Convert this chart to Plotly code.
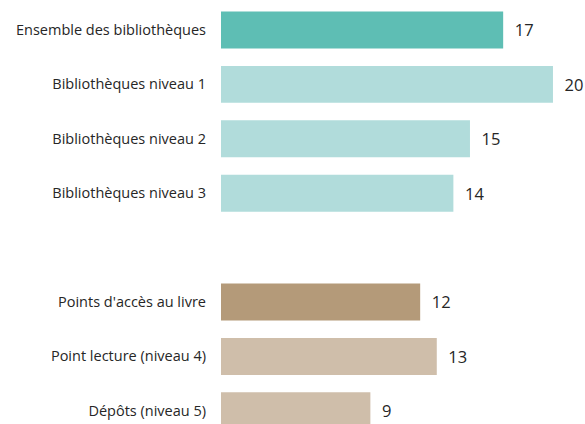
import plotly.graph_objects as go

categories = ["Ensemble des bibliothèques", "Bibliothèques niveau 1", "Bibliothèques niveau 2",
              "Bibliothèques niveau 3", "Points d'accès au livre", "Point lecture (niveau 4)",
              "Dépôts (niveau 5)"]
values = [17, 20, 15, 14, 12, 13, 9]
spacer = " "
order = categories[:4] + [spacer] + categories[4:]

colors = ["#5ebeb4", "#b1dcdb", "#b1dcdb", "#b1dcdb", "#b49a79", "#cfbeaa", "#cfbeaa"]

fig = go.Figure(go.Bar(
    x=values, y=categories, orientation="h",
    marker=dict(color=colors, line=dict(width=0)),
    width=0.68,
    text=values, texttemplate="  %{x}", textposition="outside",
    textfont=dict(family="Open Sans", size=16.5, color="#262626"),
    cliponaxis=False, hoverinfo="skip", constraintext="none",
))

fig.update_layout(
    width=585, height=424,
    margin=dict(l=221, r=0, t=0, b=0, autoexpand=False),
    paper_bgcolor="white", plot_bgcolor="white",
    showlegend=False,
    font=dict(family="Open Sans", size=14.5, color="#404040"),
)
fig.update_xaxes(range=[0, 21.93], visible=False, showgrid=False, zeroline=False, automargin=False)
fig.update_yaxes(type="category", categoryorder="array", categoryarray=order,
                 range=[7.243, -0.551], showgrid=False, zeroline=False, showline=False,
                 ticks="", ticklabelstandoff=14, automargin=False,
                 tickfont=dict(family="Open Sans", size=14.5, color="#262626"))

fig.write_html("out.html", config={"displayModeBar": False},
               post_script="document.body.style.margin='0px';")
